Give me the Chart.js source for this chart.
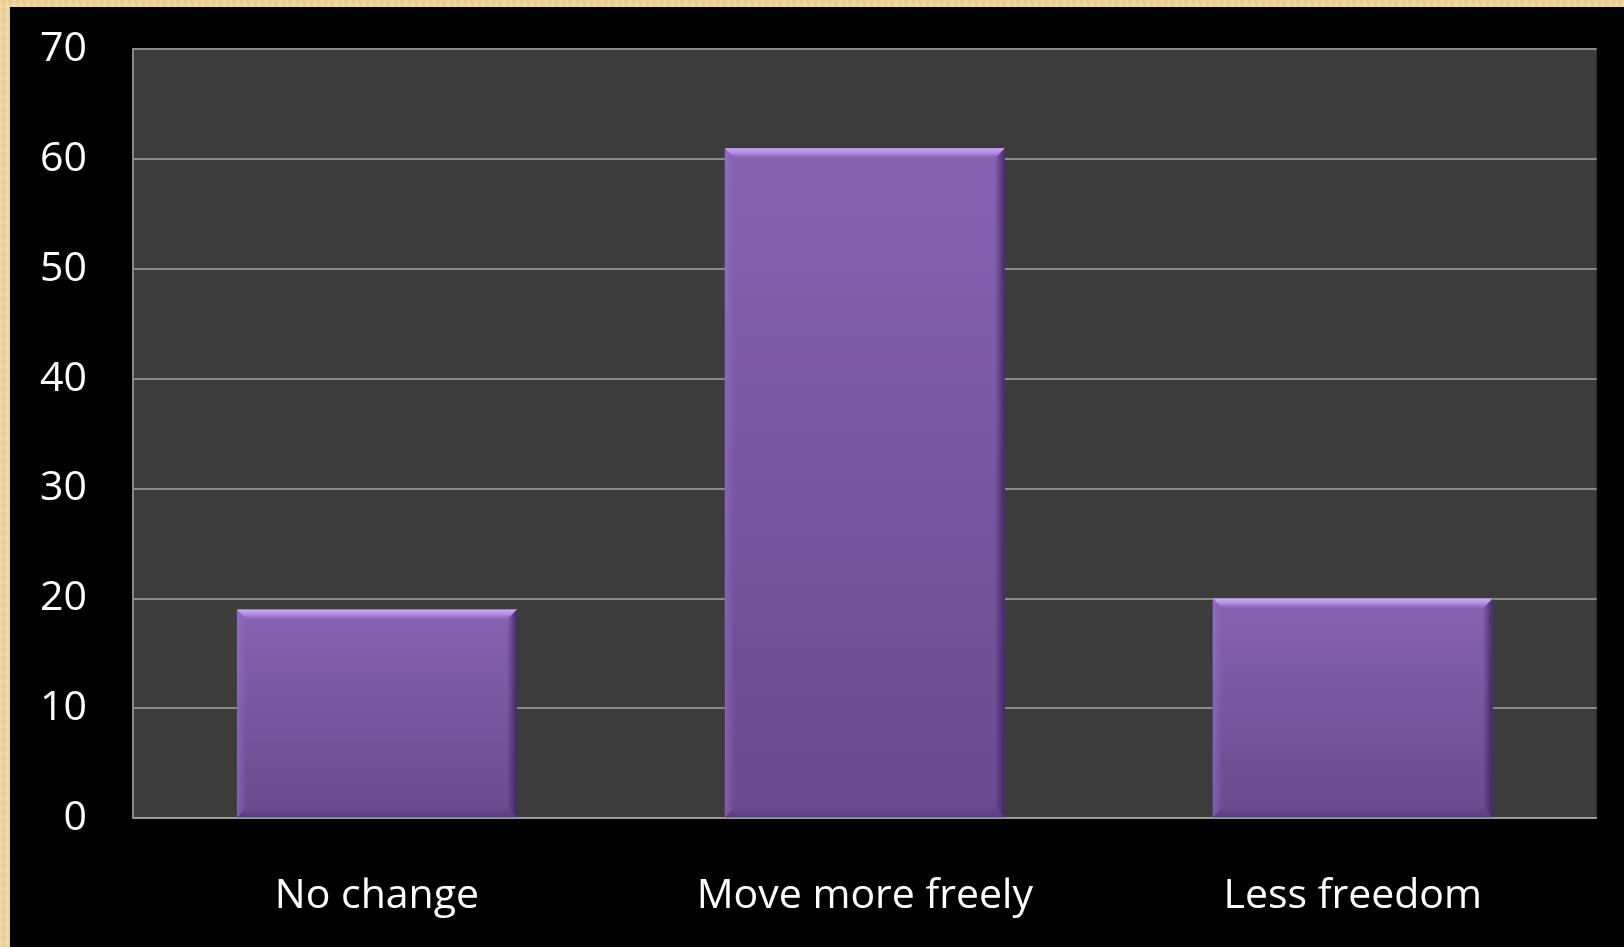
<!DOCTYPE html>
<html>
<head>
<meta charset="utf-8">
<script src="https://cdn.jsdelivr.net/npm/chart.js@4/dist/chart.umd.min.js"></script>
<style>
  html, body { margin: 0; padding: 0; width: 1624px; height: 947px; overflow: hidden; }
  body {
    background-color: #ecd39c;
    background-image:
      repeating-linear-gradient(90deg, rgba(255,240,200,0.35) 0px, rgba(220,190,130,0.25) 3px, rgba(255,235,190,0.3) 7px),
      repeating-linear-gradient(0deg, rgba(210,180,120,0.25) 0px, rgba(250,230,185,0.2) 4px, rgba(215,185,125,0.2) 9px);
  }
  #frame {
    position: absolute; left: 10px; top: 7px; width: 1614px; height: 940px;
    background: #000;
  }
  canvas { display: block; }
</style>
</head>
<body>
<div id="frame"><canvas id="chart" width="1614" height="940"></canvas></div>
<script>
// Survey responses
const categories = ['No change', 'Move more freely', 'Less freedom'];
const responses = [19, 61, 20];
const yTicks = [0, 10, 20, 30, 40, 50, 60, 70];

const FONT = '"Open Sans", "Liberation Sans", sans-serif';

// Dark plot-area backdrop
const plotBackground = {
  id: 'plotBackground',
  beforeDraw(chart) {
    const { ctx, chartArea: a } = chart;
    ctx.save();
    ctx.fillStyle = '#3c3c3c';
    ctx.fillRect(a.left, a.top, a.right - a.left, a.bottom - a.top);
    ctx.restore();
  }
};

// Bevelled look for each bar, using the bar element geometry
const barBevel = {
  id: 'barBevel',
  afterDatasetsDraw(chart) {
    const { ctx } = chart;
    chart.getDatasetMeta(0).data.forEach(bar => {
      const w = bar.width;
      const l = bar.x - w / 2, r = bar.x + w / 2, t = bar.y, b = bar.base;
      const e = 10;
      ctx.save();
      // top highlight
      let g = ctx.createLinearGradient(0, t, 0, t + e);
      g.addColorStop(0, 'rgba(205,170,250,1.0)');
      g.addColorStop(0.5, 'rgba(185,150,235,0.8)');
      g.addColorStop(1, 'rgba(160,125,210,0.0)');
      ctx.fillStyle = g;
      ctx.beginPath();
      ctx.moveTo(l, t); ctx.lineTo(r, t); ctx.lineTo(r - e, t + e); ctx.lineTo(l + e, t + e);
      ctx.closePath(); ctx.fill();
      // left soft light
      g = ctx.createLinearGradient(l, 0, l + e, 0);
      g.addColorStop(0, 'rgba(150,115,200,0.55)');
      g.addColorStop(1, 'rgba(150,115,200,0.0)');
      ctx.fillStyle = g;
      ctx.beginPath();
      ctx.moveTo(l, t); ctx.lineTo(l + e, t + e); ctx.lineTo(l + e, b - e); ctx.lineTo(l, b);
      ctx.closePath(); ctx.fill();
      // right shadow
      g = ctx.createLinearGradient(r - e, 0, r, 0);
      g.addColorStop(0, 'rgba(60,35,95,0.0)');
      g.addColorStop(1, 'rgba(55,32,90,0.85)');
      ctx.fillStyle = g;
      ctx.beginPath();
      ctx.moveTo(r, t); ctx.lineTo(r, b); ctx.lineTo(r - e, b - e); ctx.lineTo(r - e, t + e);
      ctx.closePath(); ctx.fill();
      // bottom shadow
      g = ctx.createLinearGradient(0, b - e, 0, b);
      g.addColorStop(0, 'rgba(70,45,105,0.0)');
      g.addColorStop(1, 'rgba(70,45,105,0.45)');
      ctx.fillStyle = g;
      ctx.beginPath();
      ctx.moveTo(l, b); ctx.lineTo(r, b); ctx.lineTo(r - e, b - e); ctx.lineTo(l + e, b - e);
      ctx.closePath(); ctx.fill();
      ctx.restore();
    });
  }
};

// Each bar gets its own top-to-bottom shading
function barFill(context) {
  const chart = context.chart;
  const yScale = chart.scales.y;
  if (!chart.chartArea || !yScale || context.raw == null) return '#7a5aa6';
  const top = yScale.getPixelForValue(context.raw);
  const bottom = yScale.getPixelForValue(0);
  const g = chart.ctx.createLinearGradient(0, top, 0, bottom);
  g.addColorStop(0, '#8663b1');
  g.addColorStop(1, '#684a8e');
  return g;
}

new Chart(document.getElementById('chart'), {
  type: 'bar',
  data: {
    labels: categories,
    datasets: [{
      data: responses,
      backgroundColor: barFill,
      borderWidth: 0,
      categoryPercentage: 1.0,
      barPercentage: 0.574
    }]
  },
  options: {
    responsive: false,
    animation: false,
    layout: { padding: { top: 42.3, right: 27.3, bottom: 0, left: 0 } },
    plugins: { legend: { display: false }, tooltip: { enabled: false } },
    scales: {
      x: {
        grid: { display: false, drawTicks: false },
        border: { display: true, color: '#9a9a9a', width: 2 },
        ticks: { color: '#ffffff', font: { family: FONT, size: 41 }, padding: 53, maxRotation: 0 },
        afterFit(scale) { scale.height = 128.7; }
      },
      y: {
        min: 0, max: 70,
        afterBuildTicks(scale) { scale.ticks = yTicks.map(v => ({ value: v })); },
        grid: { color: '#8a8a8a', lineWidth: 2, drawTicks: true, tickLength: 46, tickColor: 'rgba(0,0,0,0)' },
        border: { display: true, color: '#8a8a8a', width: 2 },
        ticks: { color: '#ffffff', font: { family: FONT, size: 41 }, padding: 0 },
        afterFit(scale) { scale.width = 123; }
      }
    }
  },
  plugins: [plotBackground, barBevel]
});
</script>
</body>
</html>
